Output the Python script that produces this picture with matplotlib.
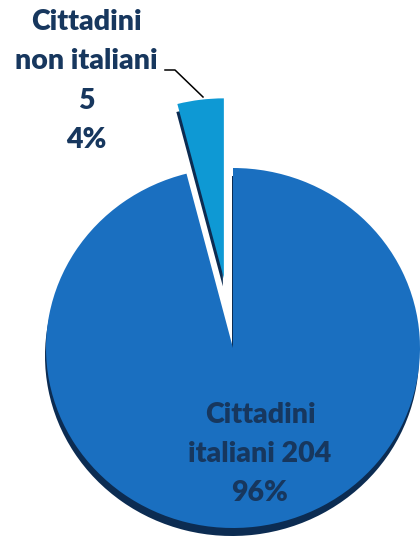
import matplotlib
matplotlib.use("Agg")
import matplotlib.pyplot as plt

# dati
labels = ["Cittadini\nnon italiani", "Cittadini\nitaliani"]
counts = [5, 204]
percents = [4, 96]
colors = ["#0E99D4", "#1A6FC0"]
shadow_color = "#0C2C52"
text_color = "#17375E"

W, H = 420, 538
ky = 187 / 180  # schiacciamento verticale (effetto 3D)
R = 187


def px(x, y):
    # pixel immagine -> coordinate dati
    return x, (H - y) * ky


fig = plt.figure(figsize=(W / 100, H / 100), dpi=100)
ax = fig.add_axes([0, 0, 1, 1])

cx, cy = px(233, 348)
explode = [0.39 * R, 0]  # explode in unita' dati

# ombra (spessore) sotto la torta
ax.pie(percents, startangle=90, counterclock=True, explode=explode,
       colors=[shadow_color] * 2, radius=R, center=(cx - 1, cy - 8 * ky),
       wedgeprops=dict(linewidth=0), frame=True)
ax.pie(percents, startangle=90, counterclock=True, explode=explode,
       colors=colors, radius=R, center=(cx, cy),
       wedgeprops=dict(linewidth=0), frame=True)

ax.set_aspect("auto")
ax.set_xlim(0, W)
ax.set_ylim(0, H * ky)
ax.axis("off")

font = dict(family=["Lato", "DejaVu Sans"], weight="heavy", color=text_color,
            fontsize=20.5, ha="center", va="baseline", linespacing=1.0)

# etichetta fetta piccola
top_lines = labels[0].split("\n") + [str(counts[0]), f"{percents[0]}%"]
for i, line in enumerate(top_lines):
    ax.text(*px(86, 30 + 39.3 * i), line, **font)

# etichetta fetta grande
low_lines = [labels[1].split("\n")[0],
             labels[1].split("\n")[1] + f" {counts[1]}", f"{percents[1]}%"]
for i, line in enumerate(low_lines):
    ax.text(*px(260, 423 + 39 * i), line, **font)

# linea guida
lx, ly = zip(px(165, 70), px(175, 70), px(203, 97))
ax.plot(lx, ly, color="black", linewidth=1.1)

fig.savefig("out.png", dpi=100)
